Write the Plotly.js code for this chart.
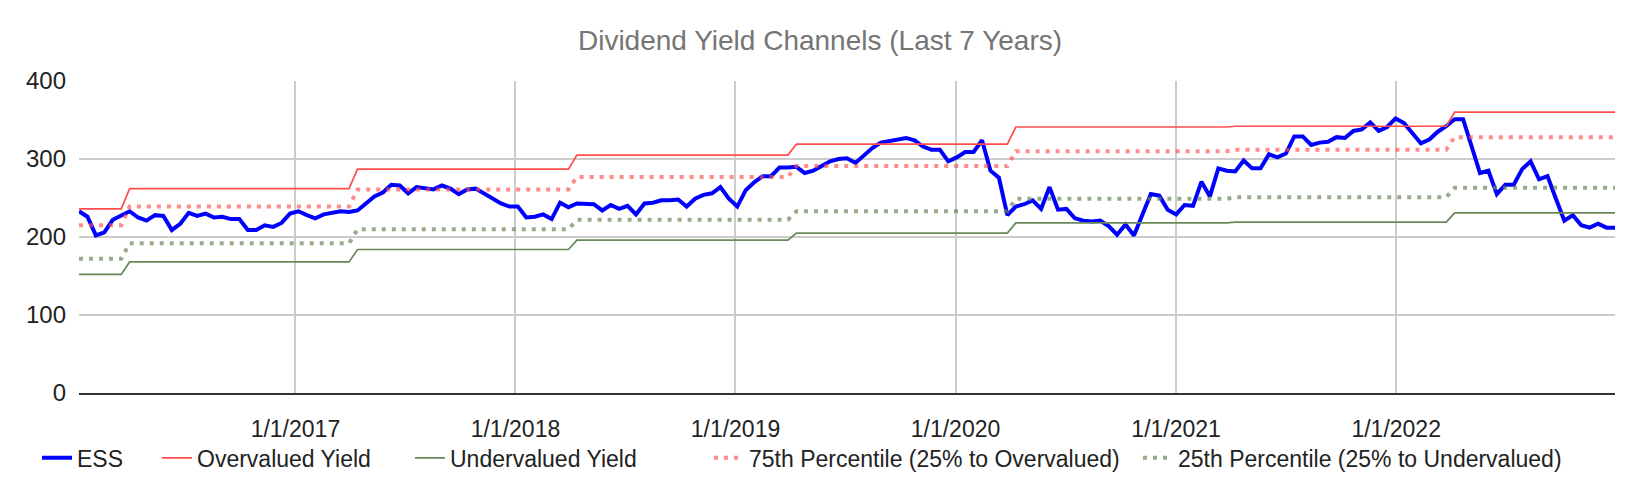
<!DOCTYPE html>
<html>
<head>
<meta charset="utf-8">
<script src="https://cdn.plot.ly/plotly-3.0.1.min.js"></script>
<style>
  html, body { margin: 0; padding: 0; background: #fff; }
  #chart { width: 1640px; height: 494px; }
</style>
</head>
<body>
<div id="chart"></div>
<script>
/* Dividend yield channels for ESS, last 7 years.
 *
 * ESS is sampled every two weeks. The four channel lines only move once a
 * year, so they are kept as one level per period plus the sample index where
 * each period starts.
 */

// --- data ---
const FIRST_SAMPLE = "2016-01-08";
const SAMPLE_STEP_DAYS = 14;

const ESS = [
  233, 226, 202, 206, 222, 227, 233, 225, 221, 228, 227, 209, 217, 231, 227, 230,
  225, 226, 223, 223, 209, 209, 215, 213, 218, 230, 233, 228, 224, 229, 231, 233,
  232, 234, 243, 252, 257, 267, 266, 256, 264, 262, 261, 266, 262, 255, 261, 262,
  256, 249, 243, 239, 239, 225, 226, 229, 223, 244, 238, 243, 242, 242, 234, 241,
  236, 240, 229, 243, 244, 247, 247, 248, 239, 249, 254, 256, 264, 249, 239, 260,
  270, 278, 278, 289, 289, 290, 282, 285, 291, 297, 300, 301, 295, 305, 314, 321,
  323, 326, 327, 324, 316, 312, 312, 297, 302, 309, 309, 324, 285, 276, 228, 239,
  242, 247, 236, 264, 235, 236, 224, 221, 220, 221, 214, 203, 216, 202, 228, 255,
  253, 235, 229, 241, 240, 271, 252, 288, 285, 284, 298, 288, 288, 306, 302, 307,
  329, 329, 318, 321, 322, 328, 327, 336, 338, 347, 336, 341, 352, 346, 333, 320,
  325, 335, 342, 351, 351, 316, 282, 285, 255, 267, 267, 287, 297, 274, 278, 249,
  221, 228, 215, 212, 217, 212, 212,
];

// sample index where each yearly channel period begins
const PERIOD_START = [0, 6, 33, 59, 85, 111, 137, 163];
const OVERVALUED = [236, 262, 287, 305, 319, 341, 342, 360];
const PCT_75 = [215, 239, 261, 277, 291, 310, 312, 328];
const PCT_25 = [172, 192, 210, 222, 233, 249, 251, 263];
const UNDERVALUED = [152, 168, 184, 196, 205, 218, 219, 231];

const Y_TICKS = [0, 100, 200, 300, 400];

(function () {
  "use strict";

  const DAY_MS = 24 * 60 * 60 * 1000;
  const FONT = "'Liberation Sans', Arial, Helvetica, sans-serif";
  const GRID = "#cccccc";
  const TEXT = "#222222";

  const start = new Date(FIRST_SAMPLE + "T00:00:00Z").getTime();
  const dates = ESS.map(function (_, i) {
    return new Date(start + i * SAMPLE_STEP_DAYS * DAY_MS).toISOString().slice(0, 10);
  });

  // one level per sample, held flat until the next period starts
  function levels(perPeriod) {
    return dates.map(function (_, i) {
      let k = 0;
      while (k + 1 < PERIOD_START.length && PERIOD_START[k + 1] <= i) {
        k++;
      }
      return perPeriod[k];
    });
  }

  function trace(name, y, line, legend) {
    return {
      x: dates, y: y, name: name, type: "scatter", mode: "lines",
      line: line, legend: legend, hoverinfo: "x+y+name",
    };
  }

  const traces = [
    trace("ESS", ESS, { color: "#0000ff", width: 4 }, "legend"),
    trace("Overvalued Yield", levels(OVERVALUED), { color: "#ff4d4d", width: 1.7 }, "legend2"),
    trace("Undervalued Yield", levels(UNDERVALUED), { color: "#6a8759", width: 1.7 }, "legend3"),
    trace("75th Percentile (25% to Overvalued)", levels(PCT_75),
      { color: "rgba(255,77,77,0.65)", width: 4, dash: "4px,6px" }, "legend4"),
    trace("25th Percentile (25% to Undervalued)", levels(PCT_25),
      { color: "rgba(106,135,89,0.7)", width: 4, dash: "4px,6px" }, "legend5"),
  ];

  // Legend entries sit where the original places them: one legend per series.
  const PLOT_L = 79, PLOT_W = 1536;
  function legendAt(swatchX) {
    return {
      orientation: "h", x: (swatchX - 5 - PLOT_L) / PLOT_W, xanchor: "left",
      y: -0.208, yanchor: "middle", bgcolor: "rgba(0,0,0,0)",
      font: { family: FONT, size: 23, color: TEXT },
    };
  }

  const layout = {
    width: 1640, height: 494,
    margin: { l: PLOT_L, r: 25, t: 81, b: 101 },
    paper_bgcolor: "#ffffff", plot_bgcolor: "#ffffff",
    font: { family: FONT, size: 24, color: TEXT },
    title: {
      text: "Dividend Yield Channels (Last 7 Years)",
      font: { family: FONT, size: 28, color: "#757575" },
      xref: "container", x: 0.5, xanchor: "center",
      yref: "container", y: 1 - 40 / 494, yanchor: "middle",
    },
    xaxis: {
      type: "date", range: [dates[0], dates[dates.length - 1]],
      tick0: "2017-01-01", dtick: "M12", tickformat: "%-m/%-d/%Y",
      showgrid: true, gridcolor: GRID, gridwidth: 1.5,
      showline: true, linecolor: "#333333", linewidth: 2,
      ticks: "", ticklabelstandoff: 14, zeroline: false,
      tickfont: { family: FONT, size: 23, color: TEXT },
    },
    yaxis: {
      range: [0, 400], tickvals: Y_TICKS,
      showgrid: true, gridcolor: GRID, gridwidth: 1.5,
      zeroline: false, showline: false, ticks: "", ticklabelstandoff: 12,
      tickfont: { family: FONT, size: 24, color: TEXT },
    },
    showlegend: true,
    legend: legendAt(42),
    legend2: legendAt(162),
    legend3: legendAt(415),
    legend4: legendAt(714),
    legend5: legendAt(1143),
  };

  Plotly.newPlot("chart", traces, layout, { displayModeBar: false, responsive: false });
})();
</script>
</body>
</html>
